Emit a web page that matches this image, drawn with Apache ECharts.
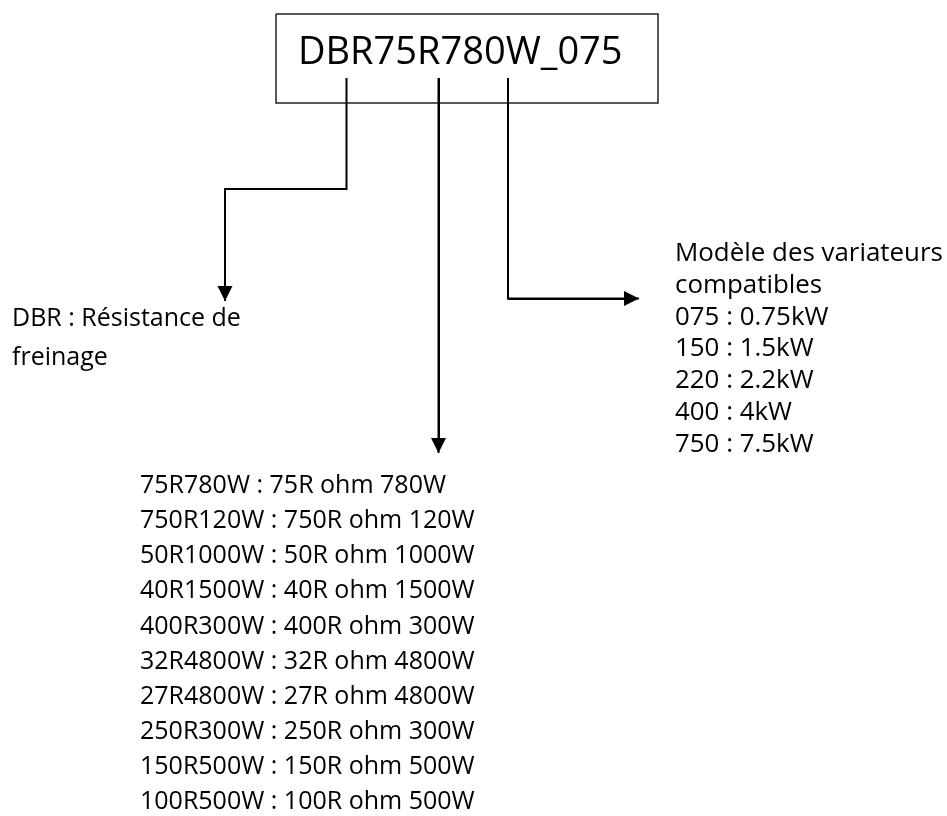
<!DOCTYPE html>
<html><head><meta charset="utf-8">
<script src="https://cdn.jsdelivr.net/npm/echarts@6/dist/echarts.min.js"></script>
<style>html,body{margin:0;padding:0;background:#fff}#c{width:947px;height:816px}</style>
</head><body><div id="c"></div>
<script>
// ---- data (texts of the diagram) ----
const codeLabel = 'DBR75R780W_075';
const prefixLines = ['DBR : Résistance de', 'freinage'];
const resistorLines = [
  '75R780W : 75R ohm 780W',
  '750R120W : 750R ohm 120W',
  '50R1000W : 50R ohm 1000W',
  '40R1500W : 40R ohm 1500W',
  '400R300W : 400R ohm 300W',
  '32R4800W : 32R ohm 4800W',
  '27R4800W : 27R ohm 4800W',
  '250R300W : 250R ohm 300W',
  '150R500W : 150R ohm 500W',
  '100R500W : 100R ohm 500W'
];
const driveLines = [
  'Modèle des variateurs',
  'compatibles',
  '075 : 0.75kW',
  '150 : 1.5kW',
  '220 : 2.2kW',
  '400 : 4kW',
  '750 : 7.5kW'
];

// ---- layout (pixel space of a hidden cartesian grid) ----
const W = 947, H = 816;
const FONT = '"Open Sans", sans-serif';
const ARROW = 15;
const layout = {
  box: { x: 276, y: 14, w: 382, h: 89 },
  title: { x: 298, top: 34.5, size: 38 },
  prefix: { x: 12, cy: 319, lh: 39, size: 25 },
  resistor: { x: 140, cy: 486, lh: 35.1, size: 25 },
  drive: { x: 675, cy: 254, lh: 31.7, size: 25.9 },
  connectors: [
    [[346.5, 78], [346.5, 189], [225, 189], [225, 301]],
    [[438.5, 78], [438.5, 453]],
    [[508, 78], [508, 298.5], [639, 298.5]]
  ]
};

// last segment, shortened so the triangle (centred on its end) has its tip at the path end
function arrowSegment(pts) {
  const n = pts.length, a = pts[n - 2].slice(), b = pts[n - 1].slice();
  const dx = b[0] - a[0], dy = b[1] - a[1], L = Math.hypot(dx, dy);
  b[0] -= dx / L * ARROW / 2; b[1] -= dy / L * ARROW / 2;
  return [a, b];
}

const b = layout.box;
const boxPath = [[b.x, b.y], [b.x + b.w, b.y], [b.x + b.w, b.y + b.h], [b.x, b.y + b.h], [b.x, b.y]];

function textBlock(lines, cfg) {
  return {
    type: 'text',
    left: cfg.x, top: cfg.cy - cfg.lh / 2,
    style: {
      text: lines.join('\n'),
      font: cfg.size + 'px ' + FONT,
      lineHeight: cfg.lh,
      fill: '#000'
    }
  };
}

const chart = echarts.init(document.getElementById('c'), null, { renderer: 'canvas' });
chart.setOption({
  animation: false,
  backgroundColor: '#fff',
  grid: { left: 0, right: 0, top: 0, bottom: 0 },
  xAxis: { type: 'value', min: 0, max: W, show: false },
  yAxis: { type: 'value', min: 0, max: H, inverse: true, show: false },
  series: [
    {
      type: 'lines', coordinateSystem: 'cartesian2d', polyline: true,
      lineStyle: { color: '#222', width: 1.5, opacity: 1 },
      data: [{ coords: boxPath }]
    },
    {
      type: 'lines', coordinateSystem: 'cartesian2d', polyline: true,
      lineStyle: { color: '#000', width: 2, opacity: 1, join: 'miter' },
      data: layout.connectors.map(c => ({ coords: c }))
    },
    {
      type: 'lines', coordinateSystem: 'cartesian2d',
      lineStyle: { color: '#000', width: 2, opacity: 1 },
      symbol: ['none', 'triangle'], symbolSize: ARROW,
      itemStyle: { color: '#000' },
      data: layout.connectors.map(c => ({ coords: arrowSegment(c) }))
    }
  ],
  graphic: [
    {
      type: 'text', left: layout.title.x, top: layout.title.top,
      style: { text: codeLabel, font: layout.title.size + 'px ' + FONT, fill: '#000' }
    },
    textBlock(prefixLines, layout.prefix),
    textBlock(resistorLines, layout.resistor),
    textBlock(driveLines, layout.drive)
  ]
});
</script></body></html>
